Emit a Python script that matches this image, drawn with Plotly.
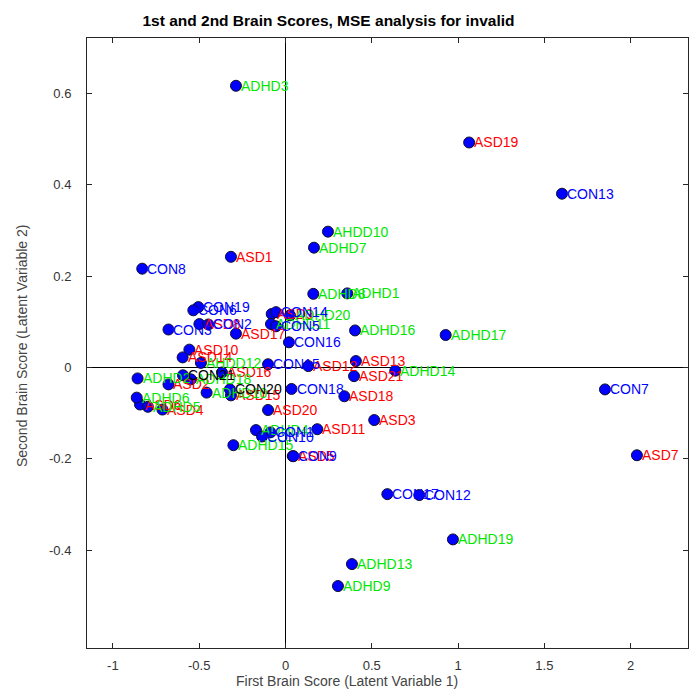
import plotly.graph_objects as go

# ---- brain scores (LV1, LV2) per subject ----
asd_labels = ["ASD19", "ASD1", "ASD8", "ASD17", "ASD9", "ASD10", "ASD14", "ASD12",
              "ASD13", "ASD21", "ASD18", "ASD3", "ASD7", "ASD20", "ASD11", "ASD5",
              "ASD2", "ASD16", "ASD15", "ASD6", "ASD4"]
asd_x = [1.064, -0.316, -0.499, -0.287, -0.080, -0.557, -0.596, 0.132,
         0.408, 0.397, 0.341, 0.514, 2.036, -0.101, 0.184, 0.042,
         -0.678, -0.368, -0.316, -0.843, -0.713]
asd_y = [0.492, 0.242, 0.095, 0.074, 0.117, 0.039, 0.022, 0.003,
         0.014, -0.019, -0.063, -0.115, -0.192, -0.093, -0.135, -0.194,
         -0.037, -0.011, -0.061, -0.081, -0.092]

adhd_labels = ["ADHD3", "AHDD10", "ADHD7", "ADHD8", "ADHD1", "ADHD20", "ADHD11",
               "ADHD16", "ADHD17", "AHDD12", "ADHD14", "ADHD4", "ADHD15", "ADHD19",
               "ADHD13", "ADHD9", "ADHD2", "ADHD18", "ADHD10", "ADHD6", "ADHD5"]
adhd_x = [-0.287, 0.246, 0.165, 0.161, 0.358, 0.026, -0.084,
          0.403, 0.928, -0.490, 0.636, -0.171, -0.302, 0.970,
          0.385, 0.304, -0.857, -0.548, -0.457, -0.862, -0.797]
adhd_y = [0.616, 0.297, 0.262, 0.161, 0.162, 0.114, 0.095,
          0.081, 0.071, 0.010, -0.007, -0.137, -0.170, -0.376,
          -0.430, -0.478, -0.024, -0.026, -0.055, -0.066, -0.086]

con_labels = ["CON13", "CON8", "CON19", "CON6", "CON2", "CON3", "CON14", "CON5",
              "CON16", "CON15", "CON18", "CON7", "CON1", "CON10", "CON9",
              "CON17", "CON12"]
con_x = [1.602, -0.830, -0.505, -0.534, -0.447, -0.678, -0.055, -0.055,
         0.020, -0.101, 0.035, 1.851, -0.087, -0.136, 0.046,
         0.590, 0.775]
con_y = [0.380, 0.216, 0.132, 0.125, 0.094, 0.083, 0.121, 0.090,
         0.055, 0.007, -0.047, -0.048, -0.142, -0.151, -0.194,
         -0.277, -0.279]

extra_labels = ["CON21", "CON20"]
extra_x = [-0.594, -0.322]
extra_y = [-0.017, -0.048]

x_ticks = [-1, -0.5, 0, 0.5, 1, 1.5, 2]
x_tick_text = ["-1", "-0.5", "0", "0.5", "1", "1.5", "2"]
y_ticks = [-0.4, -0.2, 0, 0.2, 0.4, 0.6]
y_tick_text = ["-0.4", "-0.2", "0", "0.2", "0.4", "0.6"]

FONT = "Liberation Sans, Arial, Helvetica, sans-serif"
FRAME = "#262626"

groups = [
    (asd_labels, asd_x, asd_y, "#FF0000"),
    (adhd_labels, adhd_x, adhd_y, "#00E600"),
    (con_labels, con_x, con_y, "#0000FF"),
    (extra_labels, extra_x, extra_y, "#000000"),
]

all_x = asd_x + adhd_x + con_x + extra_x
all_y = asd_y + adhd_y + con_y + extra_y

fig = go.Figure()
fig.add_trace(go.Scatter(
    x=all_x, y=all_y, mode="markers",
    marker=dict(size=11, color="#0000FF", line=dict(color="#101030", width=1)),
    hoverinfo="skip", showlegend=False,
))

annotations = []
for labels, xs, ys, color in groups:
    for lab, xv, yv in zip(labels, xs, ys):
        annotations.append(dict(
            x=xv, y=yv, xref="x", yref="y", text=lab, showarrow=False,
            xanchor="left", yanchor="middle", xshift=3,
            font=dict(family=FONT, size=14, color=color),
        ))

# axis titles
annotations.append(dict(
    x=0.433, y=0, xref="paper", yref="paper", yshift=-33,
    text="First Brain Score (Latent Variable 1)", showarrow=False,
    xanchor="center", yanchor="middle",
    font=dict(family=FONT, size=14, color="#444444"),
))
annotations.append(dict(
    x=0, y=0.495, xref="paper", yref="paper", xshift=-65,
    text="Second Brain Score (Latent Variable 2)", showarrow=False,
    textangle=-90, xanchor="center", yanchor="middle",
    font=dict(family=FONT, size=14, color="#444444"),
))

axis_common = dict(
    showgrid=False, showline=True, mirror="ticks", linecolor=FRAME, linewidth=1,
    ticks="inside", ticklen=5, tickcolor=FRAME, tickwidth=1,
    zeroline=True, zerolinecolor="#000000", zerolinewidth=1,
    tickfont=dict(family=FONT, size=13, color="#333333"),
)

fig.update_layout(
    width=696, height=696,
    margin=dict(l=87, r=8, t=38, b=48),
    paper_bgcolor="white", plot_bgcolor="white",
    title=dict(
        text="1st and 2nd Brain Scores, MSE analysis for invalid",
        x=0.472, xanchor="center", y=0.97, yanchor="middle",
        font=dict(family=FONT, size=15.5, color="#000000", weight="bold"),
    ),
    xaxis=dict(range=[-1.150, 2.332], tickvals=x_ticks, ticktext=x_tick_text,
               ticklabelstandoff=5, **axis_common),
    yaxis=dict(range=[-0.6135, 0.7205], tickvals=y_ticks, ticktext=y_tick_text,
               ticklabelstandoff=12, **axis_common),
    annotations=annotations,
)
fig.layout.title.xref = "container"

fig.write_html("out.html")
